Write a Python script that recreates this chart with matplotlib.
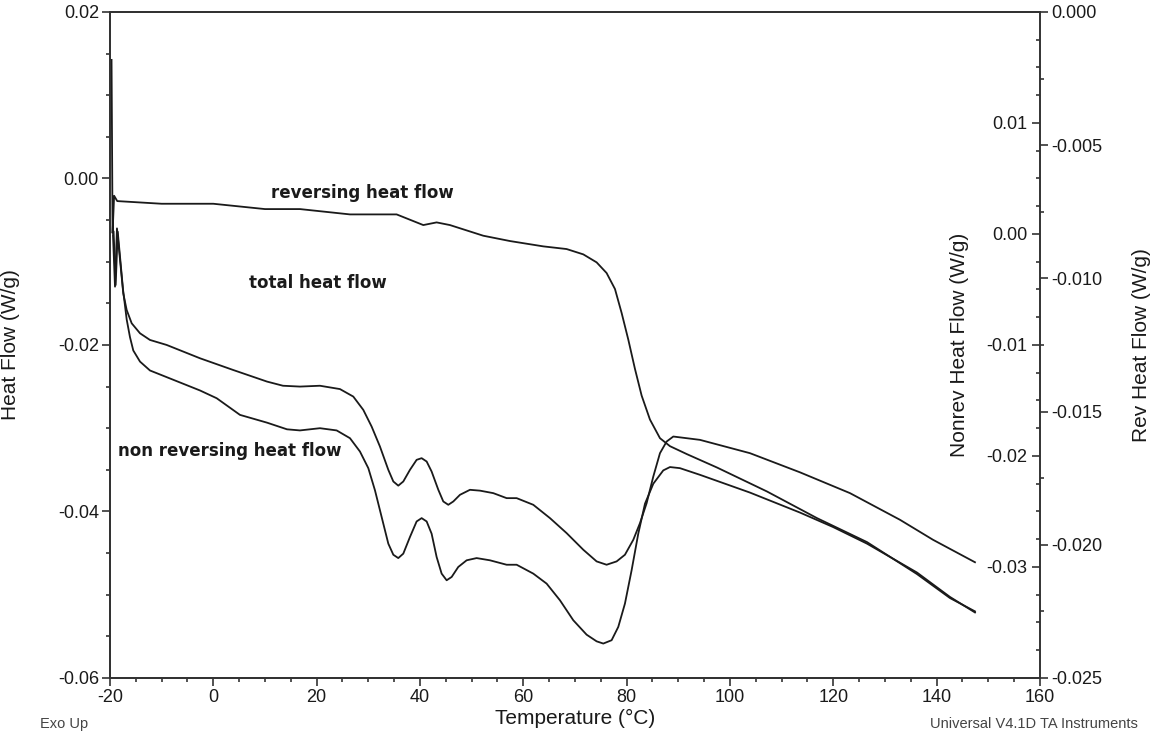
import matplotlib
matplotlib.use("Agg")
import matplotlib.pyplot as plt
from matplotlib.ticker import MultipleLocator, FuncFormatter

plt.rcParams['font.family'] = ['Liberation Sans', 'DejaVu Sans']
plt.rcParams['axes.unicode_minus'] = False

# total heat flow, left axis (W/g)
t_total = [-19.42, -19.03, -18.65, -17.43, -16.77, -15.80, -14.19, -12.26, -9.03,
           -2.58, 3.81, 10.39, 13.48, 16.77, 20.64, 24.51, 27.09, 29.03, 30.64,
           32.25, 33.87, 34.84, 35.80, 36.77, 38.06, 39.35, 40.32, 41.29, 42.25,
           43.55, 44.51, 45.48, 46.45, 47.74, 49.67, 51.61, 54.19, 56.77, 58.71,
           61.93, 65.16, 68.38, 71.61, 74.19, 76.12, 78.06, 79.67, 81.29, 82.58,
           83.87, 85.16, 86.45, 87.74, 89.03, 90.32, 94.19, 103.87, 113.55, 123.23,
           132.90, 139.29, 147.42]
hf_total = [-0.0068, -0.0130, -0.0060, -0.0138, -0.0158, -0.0174, -0.0186, -0.0194,
            -0.0200, -0.0216, -0.0230, -0.0244, -0.0249, -0.0250, -0.0249, -0.0253,
            -0.0262, -0.0278, -0.0298, -0.0322, -0.0350, -0.0364, -0.0369, -0.0364,
            -0.0350, -0.0338, -0.0336, -0.0340, -0.0352, -0.0374, -0.0388, -0.0392,
            -0.0388, -0.0380, -0.0374, -0.0375, -0.0378, -0.0384, -0.0384, -0.0392,
            -0.0408, -0.0426, -0.0446, -0.0460, -0.0464, -0.0460, -0.0452, -0.0434,
            -0.0414, -0.0390, -0.0358, -0.0330, -0.0316, -0.0310, -0.0311, -0.0314,
            -0.0330, -0.0353, -0.0378, -0.0410, -0.0434, -0.0461]

# non reversing heat flow, nonrev axis (W/g)
t_nonrev = [-19.3, -18.9, -18.5, -17.48, -16.77, -16.13, -15.49, -14.19, -12.26, -9.03,
            -2.58, 0.65, 5.16, 10.39, 14.26, 16.77, 20.64, 23.87, 26.45, 28.38, 30.0,
            31.29, 32.58, 33.87, 34.84, 35.80, 36.77, 38.06, 39.35, 40.32, 41.29,
            42.25, 43.22, 44.19, 45.16, 46.13, 47.41, 49.03, 50.96, 53.54, 56.77,
            58.71, 61.93, 64.51, 67.09, 69.67, 72.25, 74.19, 75.48, 77.09, 78.38,
            79.67, 80.96, 82.25, 83.55, 85.16, 87.09, 88.39, 90.32, 94.19, 103.87,
            113.55, 119.94, 126.52, 136.19, 142.58, 147.42]
hf_nonrev = [0.0002, -0.0046, 0.0002, -0.0050, -0.0077, -0.0093, -0.0105, -0.0115,
             -0.0123, -0.0129, -0.0141, -0.0148, -0.0163, -0.0170, -0.0176, -0.0177,
             -0.0175, -0.0177, -0.0184, -0.0196, -0.0211, -0.0231, -0.0255, -0.0279,
             -0.0289, -0.0292, -0.0288, -0.0273, -0.0259, -0.0256, -0.0259, -0.0270,
             -0.0291, -0.0306, -0.0312, -0.0309, -0.0300, -0.0294, -0.0292, -0.0294,
             -0.0298, -0.0298, -0.0306, -0.0315, -0.0330, -0.0348, -0.0361, -0.0367,
             -0.0369, -0.0366, -0.0354, -0.0333, -0.0303, -0.0270, -0.0243, -0.0225,
             -0.0213, -0.0210, -0.0211, -0.0217, -0.0233, -0.0251, -0.0264, -0.0279,
             -0.0305, -0.0327, -0.0341]

# reversing heat flow, rev axis (W/g)
t_rev = [-19.7, -19.5, -19.2, -18.6, -10.0, 0.0, 10.0, 16.77, 26.45, 35.48, 38.06,
         40.64, 43.22, 45.80, 52.25, 57.42, 63.87, 68.38, 71.61, 74.19, 76.12, 77.74,
         79.03, 80.32, 81.61, 82.90, 84.51, 86.45, 88.39, 91.68, 97.48, 107.16,
         116.84, 126.52, 136.19, 142.58, 147.42]
hf_rev = [-0.0018, -0.0083, -0.0069, -0.0071, -0.0072, -0.0072, -0.0074, -0.0074,
          -0.0076, -0.0076, -0.0078, -0.0080, -0.0079, -0.0080, -0.0084, -0.0086,
          -0.0088, -0.0089, -0.0091, -0.0094, -0.0098, -0.0104, -0.0113, -0.0123,
          -0.0134, -0.0144, -0.0153, -0.0160, -0.0163, -0.0166, -0.0171, -0.0180,
          -0.0190, -0.0199, -0.0211, -0.0220, -0.0225]

ink = '#1a1a1a'
axis_col = '#333333'


def fmt(decimals):
    def f(v, pos):
        v = 0.0 if abs(v) < 1e-12 else v
        return f'{v:.{decimals}f}'
    return FuncFormatter(f)


fig = plt.figure(figsize=(11.59, 7.46), dpi=100)
ax = fig.add_axes([0.0949, 0.0912, 0.8024, 0.8928])
ax_nr = ax.twinx()
ax_rev = ax.twinx()

ax.plot(t_total, hf_total, color=ink, lw=1.3)
ax_nr.plot(t_nonrev, hf_nonrev, color=ink, lw=1.3)
ax_rev.plot(t_rev, hf_rev, color=ink, lw=1.3)

ax.set_xlim(-20, 160)
ax.set_ylim(-0.06, 0.02)
ax_nr.set_ylim(-0.04, 0.02)
ax_rev.set_ylim(-0.025, 0.0)

for a in (ax, ax_nr, ax_rev):
    for s in a.spines.values():
        s.set_color(axis_col)
        s.set_linewidth(1.2)
ax_nr.spines['right'].set_visible(False)

# left and bottom axes
ax.xaxis.set_major_locator(MultipleLocator(20))
ax.xaxis.set_minor_locator(MultipleLocator(5))
ax.yaxis.set_major_locator(MultipleLocator(0.02))
ax.yaxis.set_minor_locator(MultipleLocator(0.005))
ax.yaxis.set_major_formatter(fmt(2))
ax.tick_params(which='major', length=6, width=1.2, colors=axis_col, labelcolor=ink,
               labelsize=13, pad=2)
ax.tick_params(which='minor', length=3, width=1.2, colors=axis_col)

# nonrev axis: ticks point left, labels inside the frame
ax_nr.set_yticks([0.01, 0.0, -0.01, -0.02, -0.03])
ax_nr.yaxis.set_minor_locator(MultipleLocator(0.0025))
ax_nr.yaxis.set_major_formatter(fmt(2))
ax_nr.tick_params(axis='y', which='major', direction='in', length=6, width=1.2,
                  colors=axis_col, labelcolor=ink, labelsize=13, pad=-9)
ax_nr.tick_params(axis='y', which='minor', direction='in', length=3, width=1.2,
                  colors=axis_col)
for lbl in ax_nr.get_yticklabels():
    lbl.set_horizontalalignment('right')

# rev axis
ax_rev.yaxis.set_major_locator(MultipleLocator(0.005))
ax_rev.yaxis.set_minor_locator(MultipleLocator(0.0025))
ax_rev.yaxis.set_major_formatter(fmt(3))
ax_rev.tick_params(axis='y', which='major', length=6, width=1.2, colors=axis_col,
                   labelcolor=ink, labelsize=13, pad=2)
ax_rev.tick_params(axis='y', which='minor', length=3, width=1.2, colors=axis_col)

ax.set_xlabel('Temperature (°C)', fontsize=15, color=ink, labelpad=2)
ax.set_ylabel('Heat Flow (W/g)', fontsize=15, color=ink)
ax.yaxis.set_label_coords(-0.097, 0.5)
ax_nr.set_ylabel('Nonrev Heat Flow (W/g)', fontsize=15, color=ink)
ax_nr.yaxis.set_label_coords(0.903, 0.5)
ax_rev.set_ylabel('Rev Heat Flow (W/g)', fontsize=15, color=ink)
ax_rev.yaxis.set_label_coords(1.099, 0.5)

bold = dict(fontsize=12, fontweight='bold', family='DejaVu Sans', color=ink,
            ha='center', va='center')
ax.text(28.8, -0.0017, 'reversing heat flow', **bold)
ax.text(20.3, -0.01255, 'total heat flow', **bold)
ax.text(3.2, -0.0327, 'non reversing heat flow', **bold)

fig.text(0.0345, 0.029, 'Exo Up', fontsize=10.5, color='#444444', va='center')
fig.text(0.982, 0.029, 'Universal V4.1D TA Instruments', fontsize=10.5,
         color='#444444', ha='right', va='center')

fig.savefig('out.png', dpi=100)
